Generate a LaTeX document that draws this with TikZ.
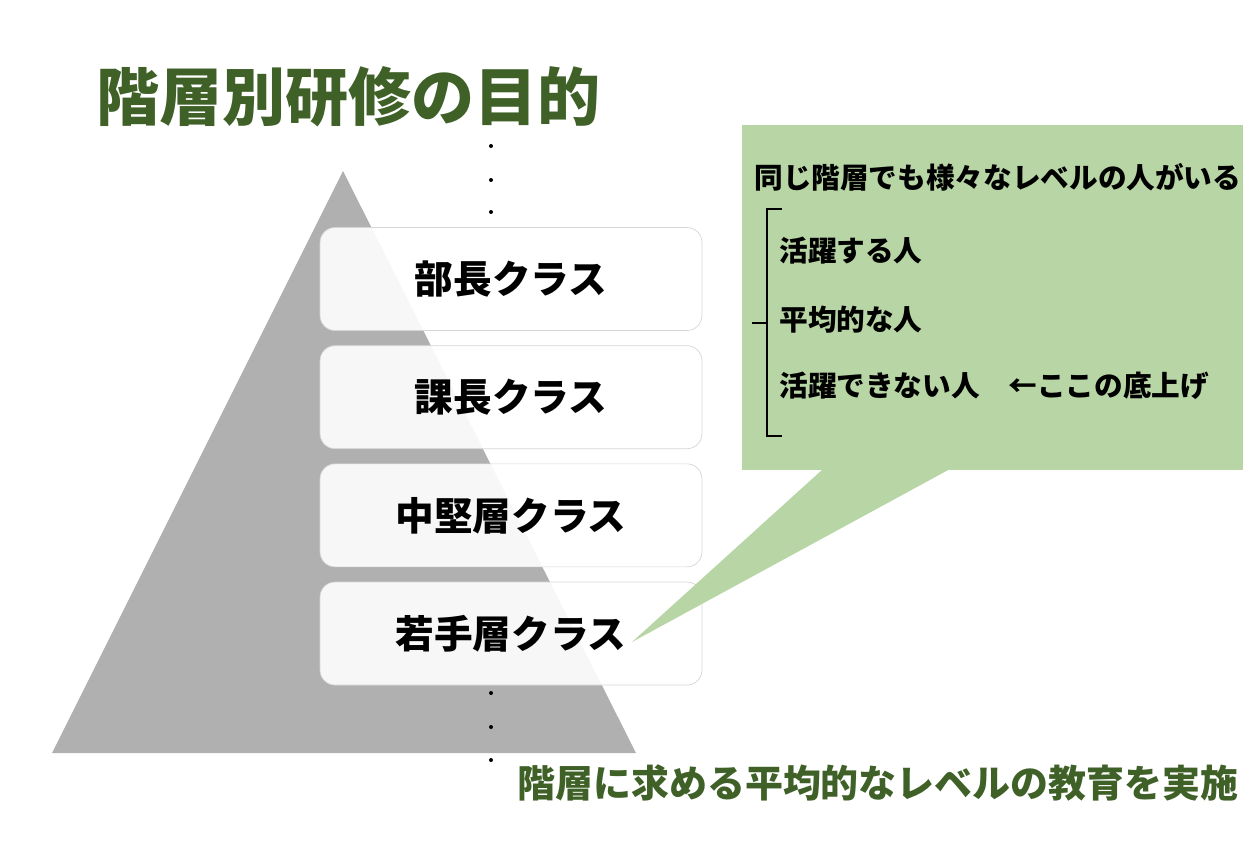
\documentclass[tikz,border=0pt]{standalone}
\usepackage{fontspec}
\setmainfont{Noto Sans CJK JP}
\usetikzlibrary{positioning}

\definecolor{titlegreen}{HTML}{3F6128}
\definecolor{calloutgreen}{HTML}{B8D6A5}
\definecolor{pyramidgray}{HTML}{B0B0B0}
\definecolor{boxline}{HTML}{D6D6D6}

\begin{document}
\begin{tikzpicture}[
  x=0.02cm, y=-0.02cm,
  classbox/.style={rectangle, rounded corners=0.3cm, draw=boxline, fill=white, fill opacity=0.9, text opacity=1, minimum width=7.64cm, minimum height=2.06cm, font=\fontsize{22}{24}\selectfont\bfseries},
  note/.style={anchor=west, inner sep=0pt, font=\fontsize{16.3}{18}\selectfont\bfseries},
  heading/.style={anchor=west, inner sep=0pt, text=titlegreen}
]
\useasboundingbox (0,0) rectangle (1260,840);

% Pyramid
\fill[pyramidgray] (343,171) -- (52,753) -- (636,753) -- cycle;

% Title
\node[heading, font=\fontsize{35.9}{40}\selectfont\bfseries] (title) at (96,97) {階層別研修の目的};

% Class boxes
\node[classbox] (bucho) at (511,279) {部長クラス};
\node[classbox, below=0.29cm of bucho] (kacho) {課長クラス};
\node[classbox, below=0.29cm of kacho] (chuken) {中堅層クラス};
\node[classbox, below=0.29cm of chuken] (wakate) {若手層クラス};

% Dots above and below
\foreach \y in {146,180,212,693,727,760}
  \fill (491,\y) circle (2);

% Callout
\fill[calloutgreen] (742,125) rectangle (1243,470);
\coordinate (tip) at (632,642);
\fill[calloutgreen] (823,469) -- (tip) -- (950,469) -- cycle;

\node[note] (same) at (754,177) {同じ階層でも様々なレベルの人がいる};
\node[note] (high) at (779,251) {活躍する人};
\node[note] (avg) at (779,320) {平均的な人};
\node[note] (low) at (779,386) {活躍できない人　←ここの底上げ};

% Bracket
\draw[line width=0.6pt] (782,209) -- (767,209) -- (767,436) -- (782,436);
\draw[line width=0.6pt] (752,323) -- (767,323);

% Bottom message
\node[heading, font=\fontsize{21.6}{24}\selectfont\bfseries] (goal) at (517,783) {階層に求める平均的なレベルの教育を実施};

\end{tikzpicture}
\end{document}
